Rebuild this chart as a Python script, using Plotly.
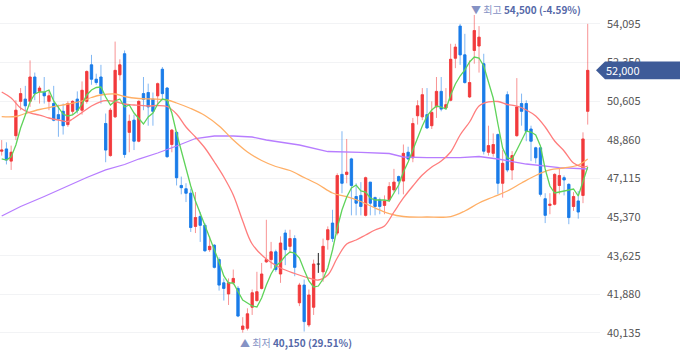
import plotly.graph_objects as go

# ---------------- data ----------------
opens = [48350, 48450, 47900, 49050, 50600, 50700, 50600, 51700, 51050, 51000,
         50600, 50500, 50000, 50150, 49550, 50150, 50700, 50200, 50600, 52250,
         51600, 51700, 49600, 48150, 49900, 51800, 52750, 49200, 49750, 48800,
         50950, 51000, 50700, 50850, 52050, 51200, 48650, 49200, 46800, 46650,
         46450, 44950, 45400, 45000, 43900, 44100, 43450, 42400, 41900, 42400,
         42150, 40300, 40350, 41300, 41600, 42150, 43350, 43450, 43800, 42800,
         44650, 44050, 44400, 41500, 42300, 40500, 41300, 43250, 42900, 44350,
         45100, 44650, 47300, 47300, 48000, 46300, 46350, 45450, 46950, 46250,
         46150, 45900, 46150, 46600, 47200, 47000, 48300, 48050, 49950, 49900,
         50000, 49500, 50350, 51050, 50300, 50650, 52550, 54000, 52700, 50800,
         52900, 53100, 52300, 48300, 48250, 49100, 46900, 50900, 47500, 49050,
         50500, 50500, 49350, 48500, 48500, 46200, 45900, 45950, 46800, 47150,
         46850, 45850, 46100, 46350, 50150]
highs = [48850, 48750, 48600, 50650, 51200, 51300, 52450, 51900, 51300, 51700,
         51100, 51300, 50450, 50500, 50600, 50650, 51050, 51500, 52000, 52700,
         51850, 52250, 50050, 50300, 53300, 52500, 52900, 50000, 50000, 50650,
         51700, 51400, 51000, 51450, 52150, 51250, 49350, 49250, 47200, 46900,
         46650, 46500, 45600, 45100, 44500, 44150, 43550, 42600, 42600, 43000,
         42250, 40850, 41250, 42100, 42900, 43300, 45250, 44250, 43900, 44500,
         44800, 44800, 44550, 42400, 42550, 42100, 43450, 43750, 44400, 44950,
         45700, 47350, 49250, 48900, 48050, 46900, 46950, 47200, 46950, 46300,
         46250, 46350, 46950, 47550, 47250, 48650, 48550, 49850, 50650, 51200,
         51200, 50600, 51700, 51700, 51200, 53200, 53200, 54100, 53650, 52450,
         54500, 54000, 52750, 49500, 49150, 49150, 48400, 51050, 48350, 51650,
         50950, 50650, 49500, 48550, 48550, 46450, 46450, 47350, 47550, 47250,
         46900, 46500, 46550, 49200, 54100]
lows = [48150, 47750, 47500, 48850, 50200, 50150, 50350, 50650, 50500, 50500,
        50200, 49700, 49000, 49100, 49450, 50000, 50050, 50000, 50500, 51350,
        51350, 50500, 47850, 48100, 49850, 51550, 48050, 48300, 48400, 48750,
        50200, 49500, 49500, 50400, 50650, 48050, 48300, 46800, 46400, 46050,
        44700, 44650, 44250, 43800, 43800, 43050, 42050, 41600, 41400, 42300,
        40850, 40150, 40250, 40950, 41550, 42100, 43300, 43050, 42900, 42400,
        43200, 43750, 42700, 41350, 40200, 40400, 40950, 42850, 42450, 43900,
        44250, 44550, 46450, 46900, 45450, 45450, 45450, 45400, 45450, 45450,
        45500, 45500, 46050, 46500, 46400, 46400, 47950, 47850, 49550, 49750,
        49350, 49350, 49850, 50150, 50250, 50600, 52100, 52250, 51400, 50750,
        52300, 51900, 48200, 48150, 48100, 46400, 46250, 47400, 47050, 49000,
        49500, 48800, 47900, 47800, 46300, 45100, 45500, 45900, 46400, 46350,
        45050, 45650, 45300, 46000, 49550]
closes = [48400, 47950, 48300, 50200, 50950, 50400, 51700, 50950, 51200, 50850,
          50850, 49750, 49800, 49500, 50500, 50600, 50200, 51100, 51950, 51600,
          51450, 50950, 48400, 50200, 52000, 52250, 48200, 49700, 48800, 50600,
          50700, 50350, 50150, 51400, 50950, 48100, 49300, 47150, 46700, 46450,
          44900, 45350, 45000, 43850, 44050, 43100, 42300, 42150, 42400, 42600,
          40900, 40450, 41000, 41950, 42000, 42800, 43450, 43800, 43000, 44200,
          43900, 44400, 43100, 42300, 40650, 41850, 43250, 43250, 44050, 44800,
          44400, 47250, 46900, 47400, 46800, 46000, 45850, 47150, 46000, 45850,
          45850, 46100, 46750, 46950, 47000, 48250, 48000, 49600, 50400, 50900,
          49400, 50100, 51050, 50250, 50450, 52500, 53050, 52700, 51450, 51450,
          53800, 53500, 48350, 48600, 48650, 46900, 47800, 47500, 48150, 50350,
          50150, 49250, 48800, 48050, 46400, 45450, 45950, 47300, 47250, 47050,
          45350, 46300, 45600, 48900, 52000]

ma5 = [48000, 47950, 48090, 48628, 49396, 49938, 50571, 50932, 51022, 51022,
       51113, 50616, 50300, 50028, 49938, 49983, 50164, 50480, 50887, 51113,
       51226, 51248, 50797, 50435, 50616, 50706, 50345, 50435, 50074, 49803,
       49577, 49893, 50074, 50480, 50706, 50661, 50074, 49170, 48357, 47589,
       46776, 46098, 45555, 44968, 44426, 43929, 43342, 42711, 42393, 42393,
       41986, 41625, 41490, 41354, 41309, 41715, 42302, 42800, 43161, 43342,
       43613, 43794, 43749, 43523, 42980, 42483, 42212, 42257, 42574, 43071,
       43884, 44878, 45691, 46279, 46685, 46821, 46550, 46505, 46234, 46143,
       46143, 46143, 46098, 46459, 46821, 47408, 47860, 48402, 48989, 49486,
       49938, 50209, 50390, 50345, 50254, 50887, 51384, 51745, 52017, 52378,
       52604, 52559, 52197, 51474, 50751, 49577, 48492, 48041, 47995, 48402,
       48854, 49261, 49215, 49080, 48582, 47544, 46776, 46459, 46505, 46550,
       46595, 46640, 46324, 46956, 47634]

ma20_idx = [0, 2, 4, 6, 8, 10, 12, 14, 15, 17, 19, 21, 22, 24, 26, 28, 31, 33,
            35, 37, 39, 41, 43, 45, 47, 49, 51, 53, 56, 59, 62, 65, 67, 69, 71,
            73, 75, 77, 79, 81, 83, 85, 87, 89, 91, 93, 95, 97, 99, 101, 103,
            105, 107, 109, 111, 113, 115, 117, 119, 121, 123, 124]
ma20 = [51022, 50751, 50300, 50074, 49983, 49848, 49757, 49690, 49803, 50096,
        50390, 50593, 50629, 50593, 50480, 50435, 50390, 50412, 50367, 50028,
        49441, 48989, 48492, 47860, 47182, 46369, 45194, 44155, 43477, 43071,
        42822, 42619, 42529, 42754, 43523, 44155, 44336, 44562, 44788, 44968,
        45601, 46234, 46776, 47272, 47634, 47905, 48312, 49080, 49667, 50390,
        50571, 50593, 50458, 50390, 50209, 49938, 49441, 48808, 48357, 47815,
        47634, 47679]

ma60_idx = [0, 3, 5, 8, 11, 14, 17, 19, 21, 24, 26, 29, 32, 35, 37, 40, 43, 46,
            49, 52, 55, 58, 61, 64, 67, 70, 73, 76, 79, 82, 85, 90, 95, 98, 101,
            104, 107, 110, 113, 116, 119, 122, 124]
ma60 = [49907, 49916, 50051, 50232, 50358, 50480, 50616, 50774, 50887, 50932,
        50819, 50729, 50706, 50661, 50525, 50277, 49961, 49486, 48854, 48312,
        47928, 47657, 47476, 47159, 46843, 46459, 46292, 46075, 45781, 45533,
        45397, 45375, 45397, 45646, 46008, 46279, 46550, 46911, 47250, 47499,
        47589, 47724, 47995]

ma120_idx = [0, 4, 9, 14, 18, 22, 26, 29, 33, 37, 41, 45, 49, 53, 56, 63, 69,
             76, 82, 85, 90, 97, 101, 105, 111, 118, 124]
ma120 = [45420, 45850, 46301, 46776, 47160, 47499, 47747, 47995, 48266, 48583,
         48921, 49035, 49035, 48989, 48854, 48628, 48334, 48298, 48244, 48086,
         48054, 48054, 48108, 47995, 47769, 47602, 47543]

y_ticks = [40135, 41880, 43625, 45370, 47115, 48860, 50605, 52350, 54095]
y_tick_text = [f"{v:,}" for v in y_ticks]

# ---------------- styles ----------------
UP, DOWN = "#f23a3c", "#1a7ce9"
UP_WICK, DOWN_WICK = "rgba(242,58,60,0.55)", "rgba(26,124,233,0.55)"
FONT = "Noto Sans CJK KR"
W, H = 680, 358
ML, MR, MT, MB = 0, 80, 0, 0
Y_RANGE = [39005, 55179]
X_RANGE = [-0.36, 126.6]

n = len(closes)
x = list(range(n))
is_doji = [opens[i] == closes[i] for i in x]


def masked(arr, keep):
    return [v if k else None for v, k in zip(arr, keep)]


keep = [not d for d in is_doji]
body_hi = [max(o, c) for o, c in zip(opens, closes)]
body_lo = [min(o, c) for o, c in zip(opens, closes)]

fig = go.Figure()

# wicks (light)
fig.add_trace(go.Candlestick(
    x=x, open=masked(opens, keep), high=masked(highs, keep),
    low=masked(lows, keep), close=masked(closes, keep),
    increasing=dict(line=dict(color=UP_WICK, width=1), fillcolor=UP_WICK),
    decreasing=dict(line=dict(color=DOWN_WICK, width=1), fillcolor=DOWN_WICK),
    whiskerwidth=0, hoverinfo="skip", showlegend=False))

# bodies (solid)
fig.add_trace(go.Candlestick(
    x=x, open=masked(opens, keep), high=masked(body_hi, keep),
    low=masked(body_lo, keep), close=masked(closes, keep),
    increasing=dict(line=dict(color=UP, width=0.6), fillcolor=UP),
    decreasing=dict(line=dict(color=DOWN, width=0.6), fillcolor=DOWN),
    whiskerwidth=0, hoverinfo="skip", showlegend=False))

# doji candles (open == close) in black
dx, dy = [], []
for i in x:
    if is_doji[i]:
        dx += [i, i, None, i - 0.32, i + 0.32, None]
        dy += [lows[i], highs[i], None, opens[i], opens[i], None]
if dx:
    fig.add_trace(go.Scatter(x=dx, y=dy, mode="lines",
                             line=dict(color="#222222", width=1),
                             hoverinfo="skip", showlegend=False))

# moving averages
fig.add_trace(go.Scatter(x=ma120_idx, y=ma120, mode="lines",
                         line=dict(color="#b77dff", width=1.3),
                         hoverinfo="skip", showlegend=False))
fig.add_trace(go.Scatter(x=ma60_idx, y=ma60, mode="lines", line_shape="spline",
                         line=dict(color="#ffaf66", width=1.3),
                         hoverinfo="skip", showlegend=False))
fig.add_trace(go.Scatter(x=ma20_idx, y=ma20, mode="lines", line_shape="spline",
                         line=dict(color="#ff7d7d", width=1.3),
                         hoverinfo="skip", showlegend=False))
fig.add_trace(go.Scatter(x=x, y=ma5, mode="lines",
                         line=dict(color="#5fd35a", width=1.3),
                         hoverinfo="skip", showlegend=False))

# high / low annotations
hi_i = max(x, key=lambda i: highs[i])
lo_i = min(x, key=lambda i: lows[i])
hi, lo, last = highs[hi_i], lows[lo_i], closes[-1]
hi_pct = (last - hi) / hi * 100
lo_pct = (last - lo) / lo * 100

fig.add_annotation(
    x=hi_i, y=hi, xref="x", yref="y", xanchor="left", yanchor="middle",
    xshift=-4, yshift=6, showarrow=False, borderpad=0,
    text=(f"<span style='color:#8592c4'>▼ 최고</span> "
          f"<b>{hi:,} ({hi_pct:.2f}%)</b>"),
    font=dict(family=FONT, size=10, color="#5568a8"))
fig.add_annotation(
    x=lo_i, y=lo, xref="x", yref="y", xanchor="left", yanchor="middle",
    xshift=-4, yshift=-10, showarrow=False, borderpad=0,
    text=(f"<span style='color:#8592c4'>▲ 최저</span> "
          f"<b>{lo:,} ({lo_pct:.2f}%)</b>"),
    font=dict(family=FONT, size=10, color="#5568a8"))

# current price tag on the right axis
plot_h = H - MT - MB
plot_w = W - ML - MR
half = 8.8 * (Y_RANGE[1] - Y_RANGE[0]) / plot_h
tip = 1 - 4 / plot_w
rect = 1 + 5 / plot_w
end = 1 + MR / plot_w
fig.add_shape(
    type="path", xref="paper", yref="y", layer="above",
    path=(f"M {tip},{last} L {rect},{last + half} L {end},{last + half} "
          f"L {end},{last - half} L {rect},{last - half} Z"),
    fillcolor="#3e5b98", line=dict(width=0))
fig.add_annotation(
    x=1, y=last, xref="paper", yref="y", xanchor="left", yanchor="middle",
    xshift=4, showarrow=False, text=f"{last:,}",
    font=dict(family=FONT, size=11, color="#ffffff"))

fig.update_layout(
    width=W, height=H, autosize=False,
    margin=dict(l=ML, r=MR, t=MT, b=MB, pad=0),
    paper_bgcolor="white", plot_bgcolor="white",
    showlegend=False, hovermode=False,
    xaxis=dict(range=X_RANGE, visible=False, showgrid=False, zeroline=False,
               rangeslider=dict(visible=False), fixedrange=True),
    yaxis=dict(range=Y_RANGE, side="right", tickvals=y_ticks,
               ticktext=y_tick_text, ticks="", ticklabelstandoff=6,
               showgrid=True, gridcolor="#f2f3f5", gridwidth=1,
               zeroline=False, showline=False, fixedrange=True,
               tickfont=dict(family=FONT, size=11, color="#555555")),
)

fig.write_html(
    "out.html",
    config={"displayModeBar": False},
    post_script="document.body.style.margin='0';"
                "document.documentElement.style.margin='0';",
)
